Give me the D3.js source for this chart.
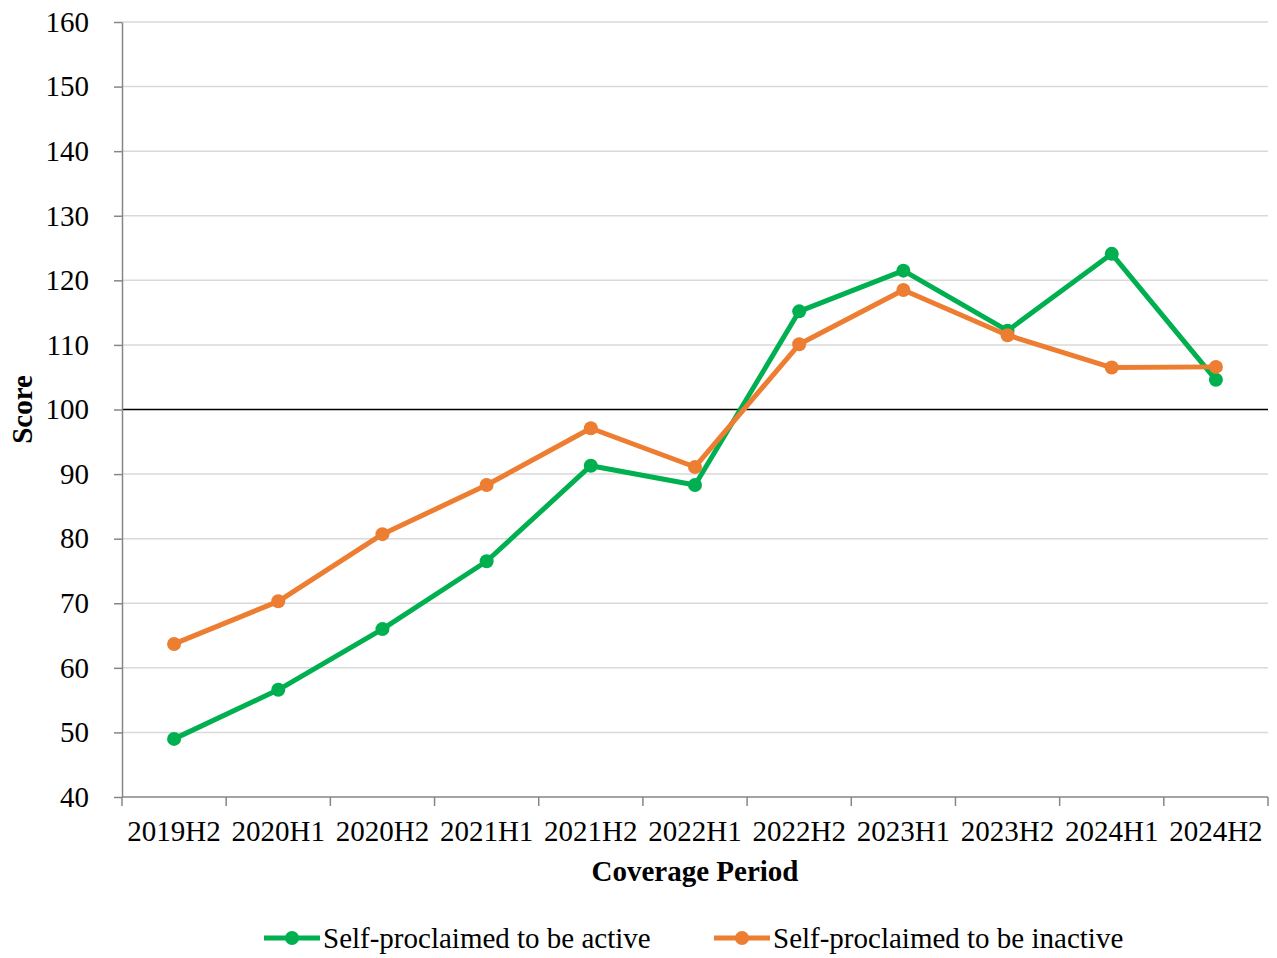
<!DOCTYPE html>
<html>
<head>
<meta charset="utf-8">
<script src="https://cdn.jsdelivr.net/npm/d3@7"></script>
<style>
  body { margin: 0; background: #fff; }
  text { font-family: "Liberation Serif", "Times New Roman", serif; fill: #000; }
</style>
</head>
<body>
<div id="chart"></div>
<script>
var periods = ["2019H2", "2020H1", "2020H2", "2021H1", "2021H2", "2022H1", "2022H2", "2023H1", "2023H2", "2024H1", "2024H2"];
var activeScores = [49.0, 56.6, 66.0, 76.5, 91.3, 88.3, 115.2, 121.5, 112.2, 124.1, 104.6];
var inactiveScores = [63.7, 70.3, 80.7, 88.3, 97.1, 91.1, 110.1, 118.5, 111.5, 106.5, 106.6];
var yTicks = [40, 50, 60, 70, 80, 90, 100, 110, 120, 130, 140, 150, 160];
var seriesNames = ["Self-proclaimed to be active", "Self-proclaimed to be inactive"];

var config = {
    width: 1277,
    height: 958,
    left: 122,
    right: 1268,
    top: 22,
    bottom: 797,
    fontSize: "29px"
};

var colors = ["#00b050", "#ed7d31"];

var svg = d3.select("#chart").append("svg")
    .attr("width", config.width)
    .attr("height", config.height);

var x = d3.scaleBand()
    .domain(periods)
    .range([config.left, config.right]);

var y = d3.scaleLinear()
    .domain([40, 160])
    .range([config.bottom, config.top]);

// gridlines
svg.append("g").selectAll("line")
    .data(yTicks.filter(function (d) { return d !== 40 && d !== 100; }))
    .enter().append("line")
    .attr("x1", config.left)
    .attr("x2", config.right)
    .attr("y1", function (d) { return y(d); })
    .attr("y2", function (d) { return y(d); })
    .attr("stroke", "#d9d9d9")
    .attr("stroke-width", 1.5);

// reference line at 100
svg.append("line")
    .attr("x1", config.left)
    .attr("x2", config.right)
    .attr("y1", y(100))
    .attr("y2", y(100))
    .attr("stroke", "#000")
    .attr("stroke-width", 1.6);

// y axis
var yAxis = svg.append("g")
    .attr("transform", "translate(" + config.left + ",0)")
    .call(d3.axisLeft(y).tickValues(yTicks).tickSize(8).tickPadding(25).tickSizeOuter(0));
yAxis.select(".domain").attr("stroke", "#868686").attr("stroke-width", 1.5);
yAxis.selectAll(".tick line").attr("stroke", "#868686").attr("stroke-width", 1.5);
yAxis.selectAll("text")
    .style("font-family", "Liberation Serif")
    .style("font-size", config.fontSize)
    .attr("fill", "#000");

// x axis with ticks at band boundaries
var xAxis = svg.append("g")
    .attr("transform", "translate(0," + config.bottom + ")");
xAxis.append("line")
    .attr("x1", config.left)
    .attr("x2", config.right)
    .attr("stroke", "#868686")
    .attr("stroke-width", 1.5);
var boundaries = periods.map(function (p) { return x(p); }).concat([config.right]);
xAxis.selectAll(".xtick")
    .data(boundaries)
    .enter().append("line")
    .attr("class", "xtick")
    .attr("x1", function (d) { return d; })
    .attr("x2", function (d) { return d; })
    .attr("y1", 0)
    .attr("y2", 9)
    .attr("stroke", "#868686")
    .attr("stroke-width", 1.5);
xAxis.selectAll(".xlabel")
    .data(periods)
    .enter().append("text")
    .attr("class", "xlabel")
    .attr("x", function (d) { return x(d) + x.bandwidth() / 2; })
    .attr("y", 44)
    .attr("text-anchor", "middle")
    .style("font-size", config.fontSize)
    .text(function (d) { return d; });

// axis titles
svg.append("text")
    .attr("x", (config.left + config.right) / 2)
    .attr("y", 881)
    .attr("text-anchor", "middle")
    .style("font-size", config.fontSize)
    .style("font-weight", "bold")
    .text("Coverage Period");

svg.append("text")
    .attr("transform", "translate(32," + y(100) + ") rotate(-90)")
    .attr("text-anchor", "middle")
    .style("font-size", config.fontSize)
    .style("font-weight", "bold")
    .text("Score");

// lines
var line = d3.line()
    .x(function (d, i) { return x(periods[i]) + x.bandwidth() / 2; })
    .y(function (d) { return y(d); });

[activeScores, inactiveScores].forEach(function (values, k) {
    var g = svg.append("g");
    g.append("path")
        .datum(values)
        .attr("fill", "none")
        .attr("stroke", colors[k])
        .attr("stroke-width", 5)
        .attr("stroke-linejoin", "round")
        .attr("d", line);
    g.selectAll("circle")
        .data(values)
        .enter().append("circle")
        .attr("cx", function (d, i) { return x(periods[i]) + x.bandwidth() / 2; })
        .attr("cy", function (d) { return y(d); })
        .attr("r", 7)
        .attr("fill", colors[k]);
});

// legend
var legendX = [264, 714];
seriesNames.forEach(function (name, k) {
    var g = svg.append("g").attr("transform", "translate(" + legendX[k] + ",938)");
    g.append("line")
        .attr("x1", 0).attr("x2", 56)
        .attr("stroke", colors[k])
        .attr("stroke-width", 5);
    g.append("circle")
        .attr("cx", 28)
        .attr("r", 7)
        .attr("fill", colors[k]);
    g.append("text")
        .attr("x", 59)
        .attr("y", 10)
        .style("font-size", config.fontSize)
        .text(name);
});
</script>
</body>
</html>
